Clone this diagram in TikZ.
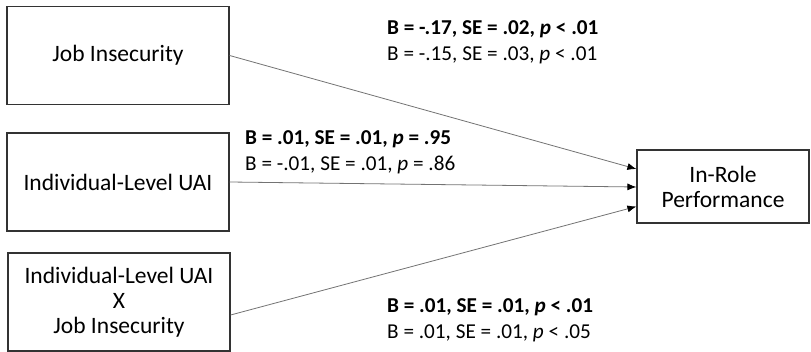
\documentclass[tikz,border=0pt]{standalone}
\usepackage{fontspec}
\setmainfont{Carlito}
\usetikzlibrary{arrows.meta,positioning}

\begin{document}
\begin{tikzpicture}[x=1pt,y=-1pt,
  every node/.style={font=\fontsize{23.5}{25}\selectfont},
  varbox/.style={draw=black!80,line width=1.2pt,align=center,inner sep=0pt,minimum width=222pt,minimum height=98pt},
  pathlab/.style={align=left,anchor=west,inner sep=0pt,font=\fontsize{21.2}{26}\selectfont},
  effect/.style={draw=black!55,line width=.8pt,-{Latex[length=9pt,width=7pt,color=black]}}]
\useasboundingbox (0,0) rectangle (811,352);
\node[varbox] (jobins) at (118,55.5) {Job Insecurity};
\node[varbox] (uai) at (118,182) {Individual-Level UAI};
\node[varbox] (inter) at (119,302) {Individual-Level UAI\\X\\Job Insecurity};
\node[varbox,minimum width=172pt,minimum height=73pt] (perf) at (723,186.5) {In-Role\\Performance};
\draw[effect] (jobins.east) -- ([yshift=17.5pt]perf.west);
\draw[effect] (uai.east) -- ([yshift=-0.5pt]perf.west);
\draw[effect] ([yshift=-13pt]inter.east) -- ([yshift=-20pt]perf.west);
\node[pathlab] (lab1) at (387,42) {\textbf{B = -.17, SE = .02, \textit{p} < .01}\\B = -.15, SE = .03, \textit{p} < .01};
\node[pathlab] (lab2) at (245,152) {\textbf{B = .01, SE = .01, \textit{p} = .95}\\B = -.01, SE = .01, \textit{p} = .86};
\node[pathlab] (lab3) at (387,320) {\textbf{B = .01, SE = .01, \textit{p} < .01}\\B = .01, SE = .01, \textit{p} < .05};
\end{tikzpicture}
\end{document}
